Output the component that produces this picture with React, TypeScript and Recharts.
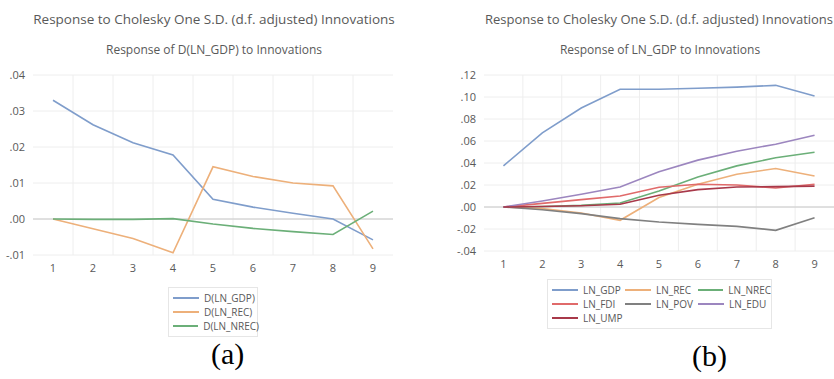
import { LineChart, Line, XAxis, YAxis, CartesianGrid, ReferenceLine } from "recharts";

const periods = [1, 2, 3, 4, 5, 6, 7, 8, 9];
const gridX = [1.5, 2.5, 3.5, 4.5, 5.5, 6.5, 7.5, 8.5];

// (a) Response of D(LN_GDP)
const gdpA = [0.033, 0.0262, 0.0212, 0.0178, 0.0055, 0.0033, 0.0016, 0.0, -0.0058];
const recA = [0.0, -0.0027, -0.0054, -0.0094, 0.0145, 0.0118, 0.01, 0.0092, -0.0083];
const nrecA = [0.0, -0.0001, -0.0001, 0.0001, -0.0014, -0.0026, -0.0035, -0.0043, 0.0022];
const ticksA = [-0.01, 0, 0.01, 0.02, 0.03, 0.04];

// (b) Response of LN_GDP
const gdpB = [0.0374, 0.0674, 0.09, 0.107, 0.107, 0.1079, 0.109, 0.1106, 0.101];
const recB = [0, -0.0015, -0.0055, -0.0121, 0.0086, 0.0207, 0.0298, 0.035, 0.0282];
const nrecB = [0, 0.0005, 0.0015, 0.0036, 0.0146, 0.0273, 0.0374, 0.0447, 0.0498];
const fdiB = [0, 0.0033, 0.0067, 0.01, 0.018, 0.0207, 0.02, 0.0173, 0.0207];
const povB = [0, -0.0025, -0.006, -0.0106, -0.0137, -0.0158, -0.0176, -0.0212, -0.0097];
const eduB = [0, 0.0055, 0.0116, 0.0182, 0.032, 0.0426, 0.0507, 0.0571, 0.0653];
const umpB = [0, 0.0005, 0.0012, 0.0025, 0.0107, 0.0158, 0.0182, 0.0185, 0.019];
const ticksB = [-0.04, -0.02, 0, 0.02, 0.04, 0.06, 0.08, 0.1, 0.12];

const c = {
  blue: "#7F9DCB",
  orange: "#EDB07A",
  green: "#6BAF78",
  red: "#E06A6A",
  gray: "#808080",
  purple: "#9C86BF",
  darkred: "#A8394A",
};

const seriesA = [
  { key: "gdp", name: "D(LN_GDP)", values: gdpA, color: c.blue },
  { key: "rec", name: "D(LN_REC)", values: recA, color: c.orange },
  { key: "nrec", name: "D(LN_NREC)", values: nrecA, color: c.green },
];
const seriesB = [
  { key: "gdp", name: "LN_GDP", values: gdpB, color: c.blue },
  { key: "rec", name: "LN_REC", values: recB, color: c.orange },
  { key: "nrec", name: "LN_NREC", values: nrecB, color: c.green },
  { key: "fdi", name: "LN_FDI", values: fdiB, color: c.red },
  { key: "pov", name: "LN_POV", values: povB, color: c.gray },
  { key: "edu", name: "LN_EDU", values: eduB, color: c.purple },
  { key: "ump", name: "LN_UMP", values: umpB, color: c.darkred },
];

type S = { key: string; name: string; values: number[]; color: string };

const build = (series: S[]) =>
  periods.map((p, i) => {
    const row: Record<string, number> = { p };
    series.forEach((s) => (row[s.key] = s.values[i]));
    return row;
  });

const fmt = (v: number) => {
  const s = Math.abs(v).toFixed(2).replace(/^0/, "");
  return v < 0 ? "-" + s : s;
};

const font = "'Open Sans', 'Noto Sans', sans-serif";
const tick = { fontSize: 11, fill: "#595959", fontFamily: font };

function Panel({ series, ticks, width, height, yWidth, right }: { series: S[]; ticks: number[]; width: number; height: number; yWidth: number; right: number }) {
  const data = build(series);
  return (
    <LineChart width={width} height={height} data={data} margin={{ top: 75, right, left: 0, bottom: 0 }}>
      <CartesianGrid vertical={false} stroke="#EEEEEE" />
      {gridX.map((x) => (
        <ReferenceLine key={x} x={x} stroke="#EEEEEE" />
      ))}
      <ReferenceLine y={0} stroke="#C8C8C8" />
      <XAxis dataKey="p" type="number" domain={[0.5, 9.5]} ticks={periods} height={30} axisLine={false} tickLine={false} tick={tick} tickMargin={3} interval={0} />
      <YAxis type="number" domain={[ticks[0], ticks[ticks.length - 1]]} ticks={ticks} width={yWidth} axisLine={false} tickLine={false} tick={tick} tickFormatter={fmt} tickMargin={2} interval={0} />
      {series.map((s) => (
        <Line key={s.key} dataKey={s.key} stroke={s.color} strokeWidth={1.6} dot={false} isAnimationActive={false} />
      ))}
    </LineChart>
  );
}

function LegendBox({ series, cols, left, top, width, colW }: { series: S[]; cols: number; left: number; top: number; width: number; colW: number }) {
  return (
    <div style={{ position: "absolute", left, top, width, border: "1px solid #E6E6E6", padding: "3px 0 4px 4px", boxSizing: "border-box", display: "grid", gridTemplateColumns: `repeat(${cols}, ${colW}px)`, rowGap: 1 }}>
      {series.map((s) => (
        <div key={s.key} style={{ display: "flex", alignItems: "center", height: 13, fontFamily: font, fontSize: 10, color: "#595959" }}>
          <span style={{ display: "inline-block", width: 26, height: 2, background: s.color, marginRight: 5 }} />
          {s.name}
        </div>
      ))}
    </div>
  );
}

const titleStyle = { position: "absolute" as const, fontFamily: font, color: "#595959", whiteSpace: "nowrap" as const, textAlign: "center" as const };

export default function App() {
  return (
    <div style={{ position: "absolute", left: 0, top: 0, width: 834, height: 379, background: "#fff", overflow: "hidden" }}>
      <div style={{ ...titleStyle, left: 0, width: 428, top: 10, fontSize: 13.5 }}>Response to Cholesky One S.D. (d.f. adjusted) Innovations</div>
      <div style={{ ...titleStyle, left: 0, width: 428, top: 41, fontSize: 12 }}>Response of D(LN_GDP) to Innovations</div>
      <div style={{ position: "absolute", left: 0, top: 0 }}>
        <Panel series={seriesA} ticks={ticksA} width={420} height={285} yWidth={33} right={27} />
      </div>
      <LegendBox series={seriesA} cols={1} left={168} top={287} width={90} colW={86} />
      <div style={{ position: "absolute", left: 211, top: 337, fontFamily: "'Liberation Serif', serif", fontSize: 30 }}>(a)</div>

      <div style={{ ...titleStyle, left: 484, width: 350, top: 10, fontSize: 13 }}>Response to Cholesky One S.D. (d.f. adjusted) Innovations</div>
      <div style={{ ...titleStyle, left: 510, width: 300, top: 41, fontSize: 12 }}>Response of LN_GDP to Innovations</div>
      <div style={{ position: "absolute", left: 420, top: 0 }}>
        <Panel series={seriesB} ticks={ticksB} width={414} height={281} yWidth={64} right={0} />
      </div>
      <LegendBox series={seriesB} cols={3} left={547} top={279} width={225} colW={73} />
      <div style={{ position: "absolute", left: 692, top: 339, fontFamily: "'Liberation Serif', serif", fontSize: 30 }}>(b)</div>
    </div>
  );
}
